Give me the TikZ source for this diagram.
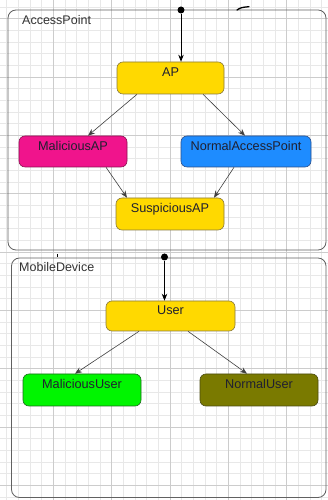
\documentclass[tikz,border=0pt]{standalone}
\usepackage{fontspec}
\setmainfont{Liberation Sans}
\usetikzlibrary{arrows.meta}
\definecolor{gold}{HTML}{FFD900}
\definecolor{goldb}{HTML}{8A7A3A}
\definecolor{pinkf}{HTML}{F0148C}
\definecolor{pinkb}{HTML}{8A1050}
\definecolor{bluef}{HTML}{1E8CFF}
\definecolor{blueb}{HTML}{2A4E8A}
\definecolor{limef}{HTML}{00F500}
\definecolor{limeb}{HTML}{1A6A1A}
\definecolor{olivef}{HTML}{7A7A00}
\definecolor{oliveb}{HTML}{4A4A10}
\definecolor{txt}{HTML}{202030}
\tikzset{
  minorg/.style={draw=black!9, line width=0.5pt},
  majorg/.style={draw=black!20, line width=0.6pt},
  region/.style={draw=black!62, line width=0.8pt, rounded corners=8pt},
  rlabel/.style={anchor=base west, inner sep=0pt, text=black!80, font=\fontsize{12.5}{14}\selectfont},
  state/.style={rounded corners=6pt, line width=0.6pt, text=txt,
    font=\fontsize{12.7}{14}\selectfont, text height=9pt, text depth=11pt, inner sep=2pt},
  trans/.style={draw=black!75, line width=0.6pt, -{Stealth[length=7pt,width=5.5pt]}},
  init/.style={draw=black, line width=0.8pt, -{Stealth[length=7pt,width=5.5pt]}},
  dot/.style={circle, fill=black, inner sep=0pt, minimum size=7pt},
}
\begin{document}
\begin{tikzpicture}[x=1pt,y=1pt]
\useasboundingbox (0,0) rectangle (328,500);
\fill[white] (0,0) rectangle (328,500);
\begin{scope}
\clip (0,0) rectangle (328,500);
\foreach \i in {-15,...,14} {\draw[minorg] ({170+11.6667*\i},0) -- ({170+11.6667*\i},500);}
\foreach \i in {-7,...,37} {\draw[minorg] (0,{73+11.6667*\i}) -- (328,{73+11.6667*\i});}
\foreach \i in {-3,...,3} {\draw[majorg] ({170+58.333*\i},0) -- ({170+58.333*\i},500);}
\foreach \i in {-1,...,8} {\draw[majorg] (0,{73+58.333*\i}) -- (328,{73+58.333*\i});}
\end{scope}

% containers
\draw[region] (8,490) rectangle (326,250);
\node[rlabel] (lap) at (22,475) {AccessPoint};
\draw[region] (11.5,242) rectangle (326,2.5);
\node[rlabel] (lmd) at (19,228) {MobileDevice};

% fragments
\draw[black, line width=1.3pt, line cap=round] (237,490) .. controls (241,492.5) .. (249,493.3);
\draw[black, line width=0.8pt] (57,246) -- (57,243);

% states
\node[state, fill=gold, draw=goldb, minimum width=107pt, minimum height=32pt] (ap) at (170.5,422) {AP};
\node[state, fill=pinkf, draw=pinkb, minimum width=108pt, minimum height=31pt] (mal) at (73,348.5) {MaliciousAP};
\node[state, fill=bluef, draw=blueb, minimum width=130pt, minimum height=31pt] (nap) at (246,348.5) {NormalAccessPoint};
\node[state, fill=gold, draw=goldb, minimum width=108pt, minimum height=32pt] (sus) at (170,286) {SuspiciousAP};
\node[state, fill=gold, draw=goldb, minimum width=129pt, minimum height=30pt] (user) at (170.5,184) {User};
\node[state, fill=limef, draw=limeb, minimum width=118pt, minimum height=32pt] (mu) at (82,110) {MaliciousUser};
\node[state, fill=olivef, draw=oliveb, minimum width=118pt, minimum height=32pt] (nu) at (259,110) {NormalUser};

% initial
\node[dot] (i1) at (181,490) {};
\node[dot] (i2) at (164.5,243) {};
\draw[init] (i1) -- ([xshift=10.5pt]ap.north);
\draw[init] (i2) -- ([xshift=-6pt]user.north);

% transitions
\draw[trans] ([xshift=-33.5pt]ap.south) -- ([xshift=15pt]mal.north);
\draw[trans] ([xshift=32.5pt]ap.south) -- ([xshift=-1pt]nap.north);
\draw[trans] ([xshift=33pt]mal.south) -- ([xshift=-43pt]sus.north);
\draw[trans] ([xshift=-12pt]nap.south) -- ([xshift=44pt]sus.north);
\draw[trans] ([xshift=-31.5pt]user.south) -- ([xshift=-7pt]mu.north);
\draw[trans] ([xshift=17.5pt]user.south) -- ([xshift=-12pt]nu.north);
\end{tikzpicture}
\end{document}
